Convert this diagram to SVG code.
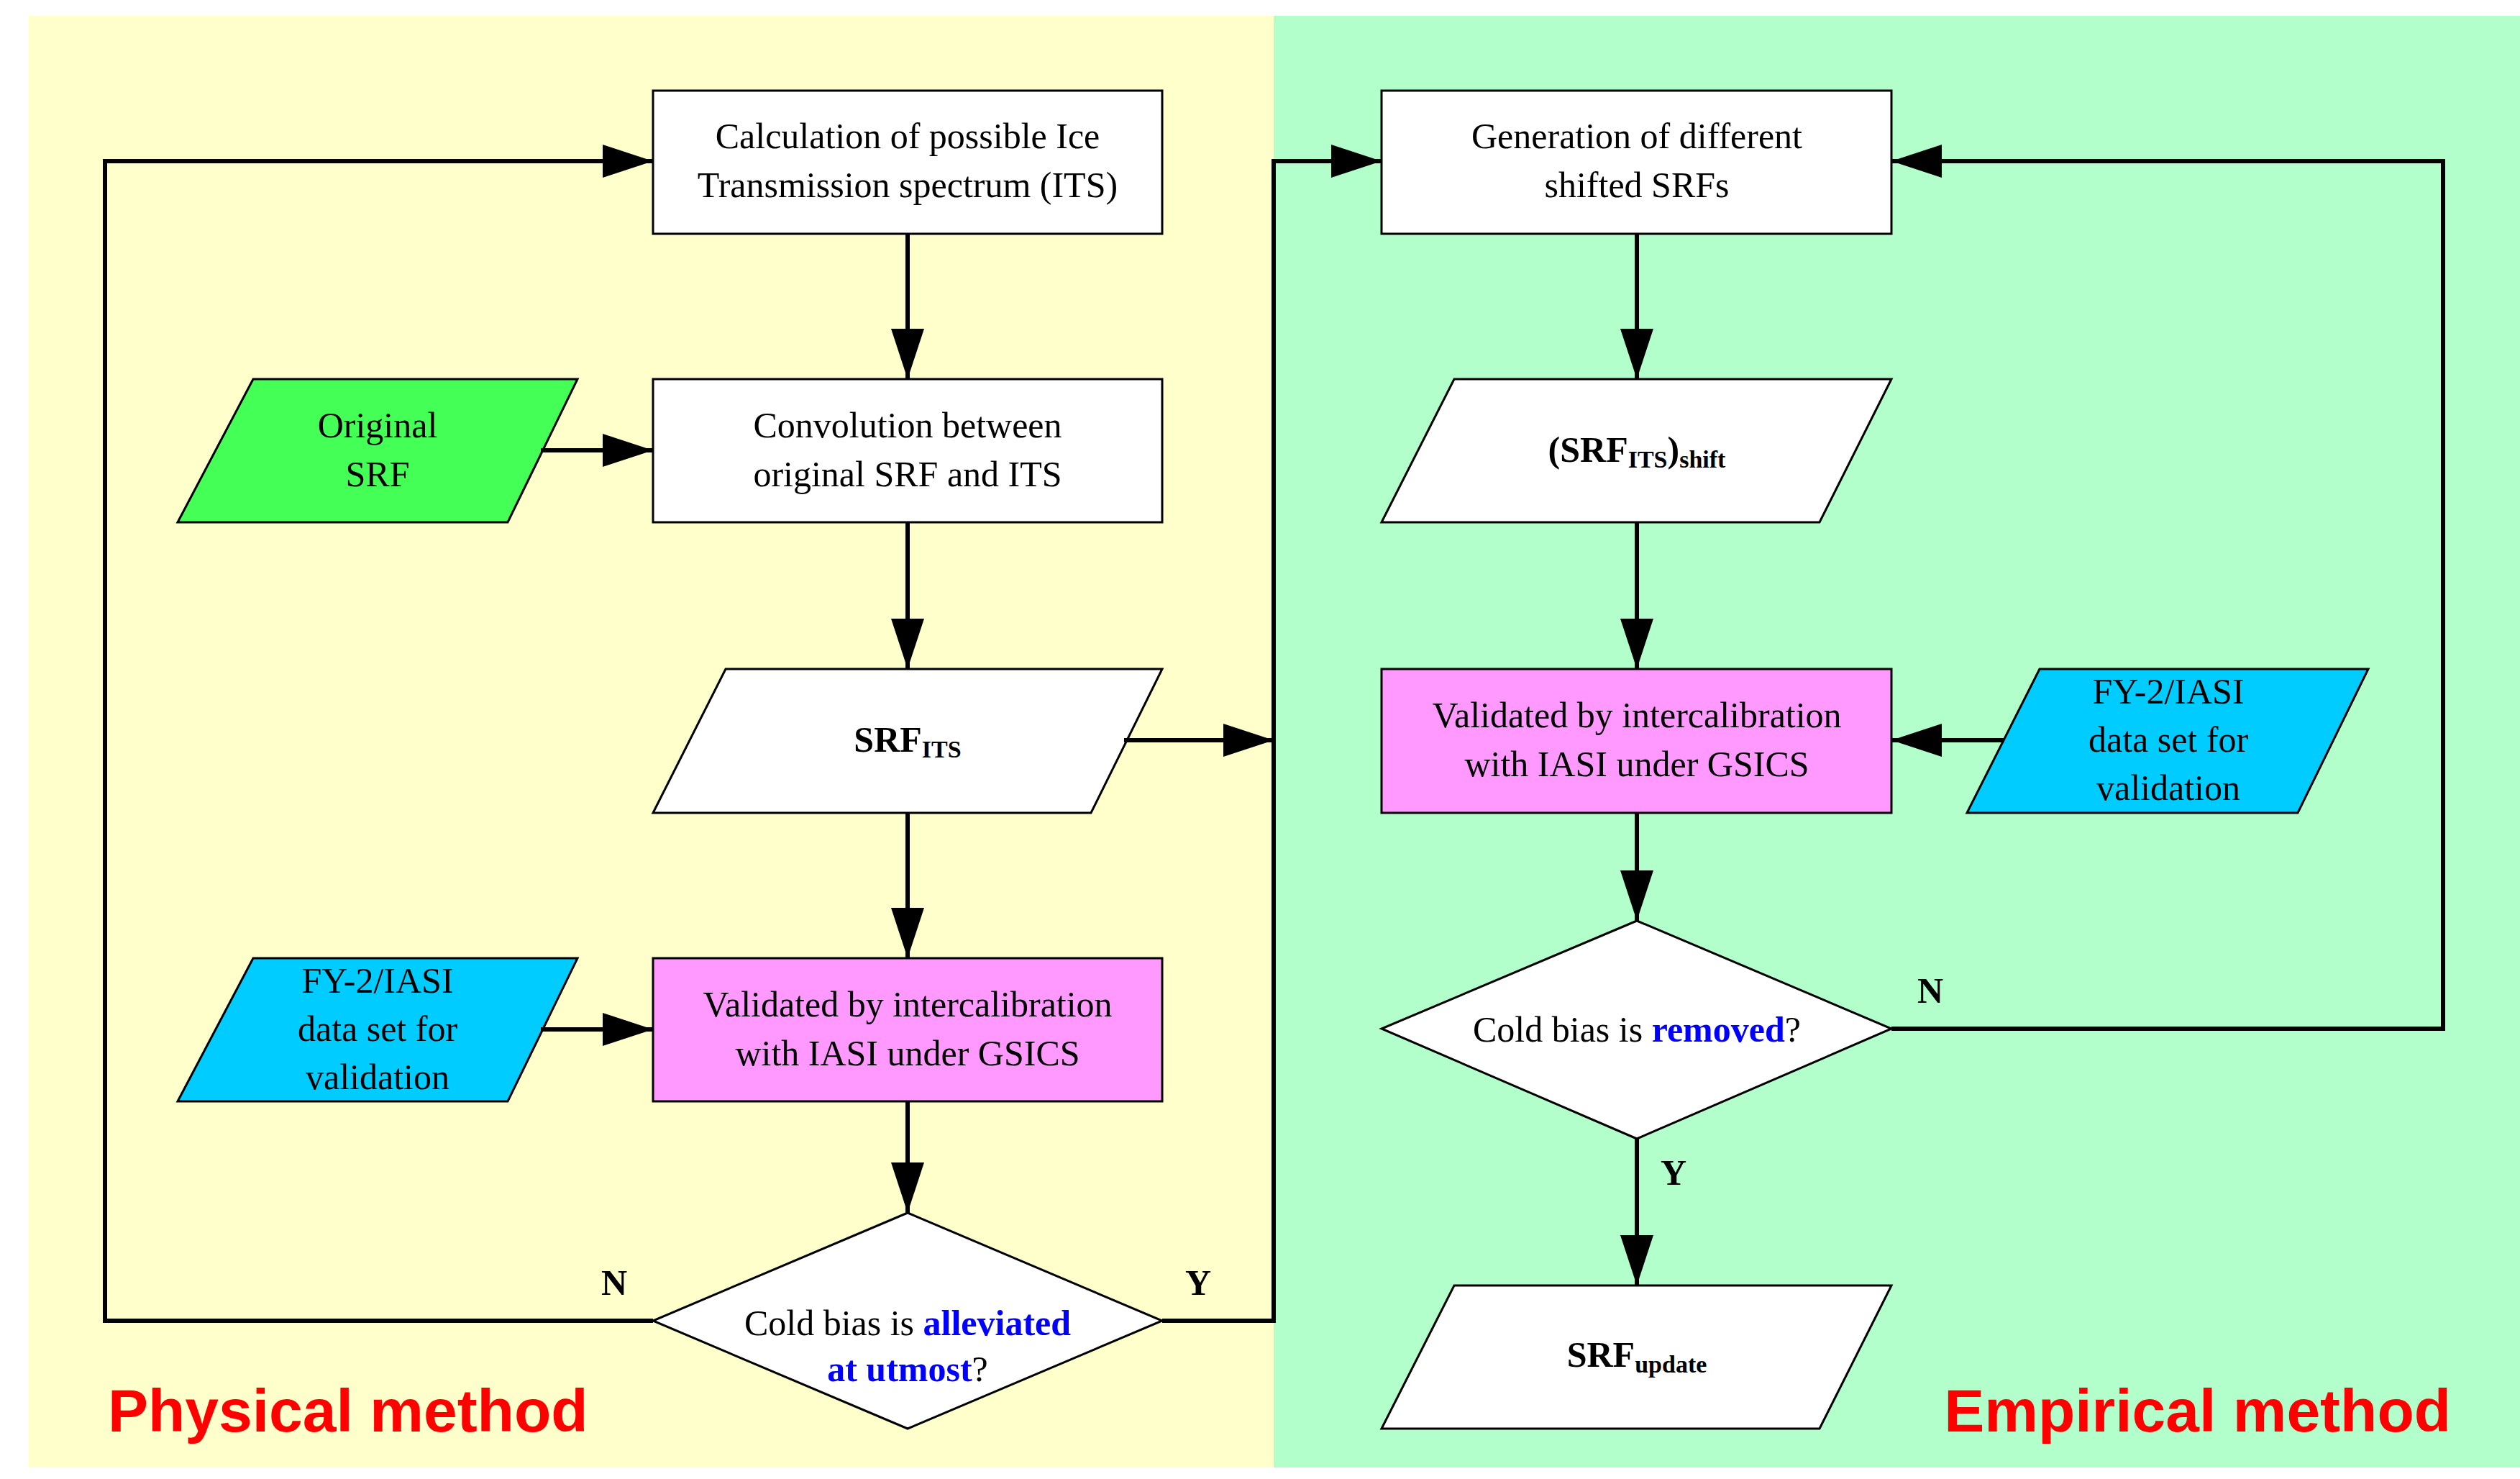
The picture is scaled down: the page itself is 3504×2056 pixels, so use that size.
<svg xmlns="http://www.w3.org/2000/svg" width="3504" height="2056" viewBox="0 0 3504 2056">
<style>
.b{stroke:#000;stroke-width:3}
.t{font-family:"Liberation Serif",serif;font-size:50px;text-anchor:middle}
.bl{fill:#0000ff;font-weight:bold}
.c{fill:none;stroke:#000;stroke-width:6}
.h{font-family:"Liberation Sans",Arial,sans-serif;font-size:84px;font-weight:bold;fill:#ff0000}
.yn{font-family:"Liberation Serif",serif;font-size:50px;font-weight:bold}
</style>
<defs><marker id="a" markerUnits="userSpaceOnUse" markerWidth="70" markerHeight="46" refX="70" refY="23" orient="auto"><path d="M0,0 L70,23 L0,46 z" fill="#000"/></marker></defs>
<rect x="0" y="0" width="3504" height="2056" fill="#fff"/>
<rect x="40" y="22" width="1731" height="2018" fill="#ffffcc"/>
<rect x="1771" y="22" width="1733" height="2018" fill="#b3ffcc"/>
<g id="n1"><rect class="b" x="908" y="126" width="708" height="199" fill="#fff"/><text class="t" x="1262" y="206">Calculation of possible Ice</text><text class="t" x="1262" y="274">Transmission spectrum (ITS)</text></g>
<g id="n2"><rect class="b" x="908" y="527" width="708" height="199" fill="#fff"/><text class="t" x="1262" y="608">Convolution between</text><text class="t" x="1262" y="676">original SRF and ITS</text></g>
<g id="n3"><polygon class="b" points="1009,930 1616,930 1517,1130 908,1130" fill="#fff"/><text class="t" x="1262" y="1045" font-weight="bold">SRF<tspan font-size="34" dy="8">ITS</tspan></text></g>
<g id="n4"><rect class="b" x="908" y="1332" width="708" height="199" fill="#ff99ff"/><text class="t" x="1262" y="1413">Validated by intercalibration</text><text class="t" x="1262" y="1481">with IASI under GSICS</text></g>
<g id="n5"><polygon class="b" points="1262,1686 1616,1836 1262,1986 908,1836" fill="#fff"/><text class="t" x="1262" y="1856">Cold bias is <tspan class="bl">alleviated</tspan></text><text class="t" x="1262" y="1920"><tspan class="bl">at utmost</tspan>?</text></g>
<g id="n6"><polygon class="b" points="352,527 803,527 706,726 247,726" fill="#44ff55"/><text class="t" x="525" y="608">Original</text><text class="t" x="525" y="676">SRF</text></g>
<g id="n7"><polygon class="b" points="352,1332 803,1332 706,1531 247,1531" fill="#00ccff"/><text class="t" x="525" y="1380">FY-2/IASI</text><text class="t" x="525" y="1447">data set for</text><text class="t" x="525" y="1514">validation</text></g>
<g id="n8"><rect class="b" x="1921" y="126" width="709" height="199" fill="#fff"/><text class="t" x="2276" y="206">Generation of different</text><text class="t" x="2276" y="274">shifted SRFs</text></g>
<g id="n9"><polygon class="b" points="2022,527 2630,527 2530,726 1921,726" fill="#fff"/><text class="t" x="2276" y="642" font-weight="bold">(SRF<tspan font-size="34" dy="8">ITS</tspan><tspan dy="-8">)</tspan><tspan font-size="34" dy="8">shift</tspan></text></g>
<g id="n10"><rect class="b" x="1921" y="930" width="709" height="200" fill="#ff99ff"/><text class="t" x="2276" y="1011">Validated by intercalibration</text><text class="t" x="2276" y="1079">with IASI under GSICS</text></g>
<g id="n11"><polygon class="b" points="2836,930 3293,930 3195,1130 2735,1130" fill="#00ccff"/><text class="t" x="3015" y="978">FY-2/IASI</text><text class="t" x="3015" y="1045">data set for</text><text class="t" x="3015" y="1112">validation</text></g>
<g id="n12"><polygon class="b" points="2276,1280 2630,1430 2276,1583 1921,1430" fill="#fff"/><text class="t" x="2276" y="1448">Cold bias is <tspan class="bl">removed</tspan>?</text></g>
<g id="n13"><polygon class="b" points="2022,1787 2630,1787 2530,1986 1921,1986" fill="#fff"/><text class="t" x="2276" y="1900" font-weight="bold">SRF<tspan font-size="34" dy="8">update</tspan></text></g>
<g id="connectors">
<path class="c" marker-end="url(#a)" d="M1262,325 V527"/>
<path class="c" marker-end="url(#a)" d="M1262,726 V930"/>
<path class="c" marker-end="url(#a)" d="M1262,1130 V1332"/>
<path class="c" marker-end="url(#a)" d="M1262,1531 V1686"/>
<path class="c" marker-end="url(#a)" d="M752,626 H908"/>
<path class="c" marker-end="url(#a)" d="M752,1431 H908"/>
<path class="c" marker-end="url(#a)" d="M908,1836 H146 V224 H908"/>
<path class="c" marker-end="url(#a)" d="M1563,1029 H1771"/>
<path class="c" marker-end="url(#a)" d="M1616,1836 H1771 V224 H1921"/>
<path class="c" marker-end="url(#a)" d="M2276,325 V527"/>
<path class="c" marker-end="url(#a)" d="M2276,726 V930"/>
<path class="c" marker-end="url(#a)" d="M2276,1130 V1280"/>
<path class="c" marker-end="url(#a)" d="M2787,1029 H2630"/>
<path class="c" marker-end="url(#a)" d="M2630,1430 H3397 V224 H2630"/>
<path class="c" marker-end="url(#a)" d="M2276,1583 V1787"/>
</g>
<text class="yn" x="854" y="1800" text-anchor="middle">N</text>
<text class="yn" x="1666" y="1800" text-anchor="middle">Y</text>
<text class="yn" x="2684" y="1394" text-anchor="middle">N</text>
<text class="yn" x="2327" y="1647" text-anchor="middle">Y</text>
<text class="h" x="150" y="1990">Physical method</text>
<text class="h" x="3408" y="1990" text-anchor="end">Empirical method</text>
</svg>
